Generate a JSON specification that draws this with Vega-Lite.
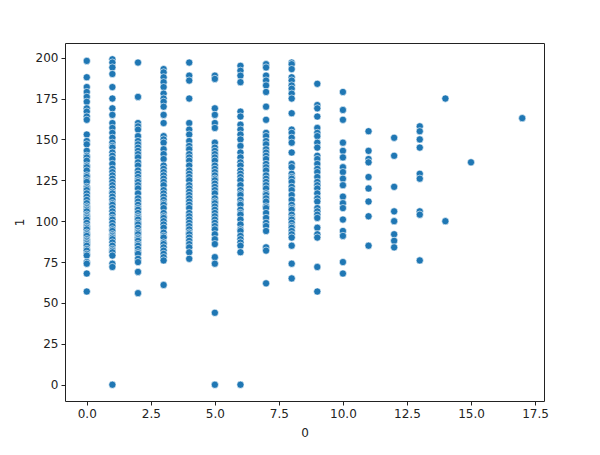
{
"$schema": "https://vega.github.io/schema/vega-lite/v6.json",
"autosize": {"type": "none"},
"padding": {"left": 65, "top": 43, "right": 56, "bottom": 54},
"width": 479,
"height": 358,
"background": "white",
"data": {"values": [
{"p":0,"g":198},{"p":0,"g":188},{"p":0,"g":182},{"p":0,"g":179},{"p":0,"g":176},{"p":0,"g":173},{"p":0,"g":169},{"p":0,"g":167},{"p":0,"g":164},{"p":0,"g":162},{"p":0,"g":153},{"p":0,"g":149},{"p":0,"g":147},{"p":0,"g":143},{"p":0,"g":140},{"p":0,"g":139},{"p":0,"g":137},{"p":0,"g":134},{"p":0,"g":133},{"p":0,"g":131},{"p":0,"g":128},{"p":0,"g":127},{"p":0,"g":125},{"p":0,"g":124},{"p":0,"g":121},{"p":0,"g":120},{"p":0,"g":119},{"p":0,"g":117},{"p":0,"g":115},{"p":0,"g":113},{"p":0,"g":111},{"p":0,"g":109},{"p":0,"g":108},{"p":0,"g":107},{"p":0,"g":106},{"p":0,"g":104},{"p":0,"g":103},{"p":0,"g":102},{"p":0,"g":101},{"p":0,"g":99},{"p":0,"g":97},{"p":0,"g":96},{"p":0,"g":95},{"p":0,"g":93},{"p":0,"g":92},{"p":0,"g":91},{"p":0,"g":89},{"p":0,"g":88},{"p":0,"g":87},{"p":0,"g":86},{"p":0,"g":85},{"p":0,"g":83},{"p":0,"g":82},{"p":0,"g":80},{"p":0,"g":79},{"p":0,"g":75},{"p":0,"g":74},{"p":0,"g":68},{"p":0,"g":57},
{"p":1,"g":199},{"p":1,"g":197},{"p":1,"g":194},{"p":1,"g":190},{"p":1,"g":182},{"p":1,"g":175},{"p":1,"g":169},{"p":1,"g":165},{"p":1,"g":160},{"p":1,"g":157},{"p":1,"g":154},{"p":1,"g":151},{"p":1,"g":148},{"p":1,"g":146},{"p":1,"g":145},{"p":1,"g":142},{"p":1,"g":140},{"p":1,"g":138},{"p":1,"g":135},{"p":1,"g":132},{"p":1,"g":130},{"p":1,"g":128},{"p":1,"g":126},{"p":1,"g":124},{"p":1,"g":122},{"p":1,"g":120},{"p":1,"g":118},{"p":1,"g":117},{"p":1,"g":115},{"p":1,"g":113},{"p":1,"g":111},{"p":1,"g":110},{"p":1,"g":108},{"p":1,"g":106},{"p":1,"g":104},{"p":1,"g":102},{"p":1,"g":101},{"p":1,"g":99},{"p":1,"g":97},{"p":1,"g":95},{"p":1,"g":94},{"p":1,"g":92},{"p":1,"g":91},{"p":1,"g":90},{"p":1,"g":89},{"p":1,"g":87},{"p":1,"g":85},{"p":1,"g":83},{"p":1,"g":82},{"p":1,"g":81},{"p":1,"g":79},{"p":1,"g":74},{"p":1,"g":72},{"p":1,"g":0},
{"p":2,"g":197},{"p":2,"g":176},{"p":2,"g":160},{"p":2,"g":158},{"p":2,"g":156},{"p":2,"g":152},{"p":2,"g":149},{"p":2,"g":147},{"p":2,"g":145},{"p":2,"g":143},{"p":2,"g":141},{"p":2,"g":139},{"p":2,"g":136},{"p":2,"g":134},{"p":2,"g":131},{"p":2,"g":129},{"p":2,"g":127},{"p":2,"g":125},{"p":2,"g":124},{"p":2,"g":122},{"p":2,"g":120},{"p":2,"g":117},{"p":2,"g":114},{"p":2,"g":112},{"p":2,"g":110},{"p":2,"g":108},{"p":2,"g":107},{"p":2,"g":105},{"p":2,"g":103},{"p":2,"g":102},{"p":2,"g":101},{"p":2,"g":99},{"p":2,"g":98},{"p":2,"g":96},{"p":2,"g":94},{"p":2,"g":93},{"p":2,"g":92},{"p":2,"g":90},{"p":2,"g":89},{"p":2,"g":88},{"p":2,"g":86},{"p":2,"g":85},{"p":2,"g":83},{"p":2,"g":81},{"p":2,"g":80},{"p":2,"g":77},{"p":2,"g":75},{"p":2,"g":69},{"p":2,"g":56},
{"p":3,"g":193},{"p":3,"g":191},{"p":3,"g":188},{"p":3,"g":185},{"p":3,"g":182},{"p":3,"g":178},{"p":3,"g":175},{"p":3,"g":173},{"p":3,"g":170},{"p":3,"g":165},{"p":3,"g":160},{"p":3,"g":152},{"p":3,"g":150},{"p":3,"g":148},{"p":3,"g":144},{"p":3,"g":141},{"p":3,"g":138},{"p":3,"g":134},{"p":3,"g":132},{"p":3,"g":130},{"p":3,"g":128},{"p":3,"g":126},{"p":3,"g":124},{"p":3,"g":122},{"p":3,"g":119},{"p":3,"g":117},{"p":3,"g":115},{"p":3,"g":113},{"p":3,"g":111},{"p":3,"g":110},{"p":3,"g":108},{"p":3,"g":105},{"p":3,"g":103},{"p":3,"g":102},{"p":3,"g":100},{"p":3,"g":98},{"p":3,"g":96},{"p":3,"g":93},{"p":3,"g":91},{"p":3,"g":90},{"p":3,"g":87},{"p":3,"g":86},{"p":3,"g":84},{"p":3,"g":82},{"p":3,"g":80},{"p":3,"g":78},{"p":3,"g":76},{"p":3,"g":61},
{"p":4,"g":197},{"p":4,"g":189},{"p":4,"g":186},{"p":4,"g":175},{"p":4,"g":160},{"p":4,"g":156},{"p":4,"g":153},{"p":4,"g":149},{"p":4,"g":146},{"p":4,"g":144},{"p":4,"g":141},{"p":4,"g":139},{"p":4,"g":137},{"p":4,"g":134},{"p":4,"g":131},{"p":4,"g":129},{"p":4,"g":127},{"p":4,"g":125},{"p":4,"g":122},{"p":4,"g":120},{"p":4,"g":118},{"p":4,"g":116},{"p":4,"g":114},{"p":4,"g":112},{"p":4,"g":110},{"p":4,"g":108},{"p":4,"g":105},{"p":4,"g":103},{"p":4,"g":101},{"p":4,"g":99},{"p":4,"g":97},{"p":4,"g":95},{"p":4,"g":93},{"p":4,"g":92},{"p":4,"g":90},{"p":4,"g":88},{"p":4,"g":86},{"p":4,"g":84},{"p":4,"g":81},{"p":4,"g":77},
{"p":5,"g":189},{"p":5,"g":187},{"p":5,"g":169},{"p":5,"g":165},{"p":5,"g":160},{"p":5,"g":157},{"p":5,"g":148},{"p":5,"g":145},{"p":5,"g":143},{"p":5,"g":141},{"p":5,"g":139},{"p":5,"g":137},{"p":5,"g":134},{"p":5,"g":132},{"p":5,"g":130},{"p":5,"g":128},{"p":5,"g":126},{"p":5,"g":125},{"p":5,"g":123},{"p":5,"g":121},{"p":5,"g":119},{"p":5,"g":117},{"p":5,"g":114},{"p":5,"g":112},{"p":5,"g":111},{"p":5,"g":109},{"p":5,"g":107},{"p":5,"g":105},{"p":5,"g":103},{"p":5,"g":101},{"p":5,"g":99},{"p":5,"g":97},{"p":5,"g":95},{"p":5,"g":92},{"p":5,"g":89},{"p":5,"g":86},{"p":5,"g":78},{"p":5,"g":74},{"p":5,"g":44},{"p":5,"g":0},
{"p":6,"g":195},{"p":6,"g":192},{"p":6,"g":189},{"p":6,"g":185},{"p":6,"g":167},{"p":6,"g":164},{"p":6,"g":159},{"p":6,"g":156},{"p":6,"g":153},{"p":6,"g":150},{"p":6,"g":146},{"p":6,"g":142},{"p":6,"g":139},{"p":6,"g":136},{"p":6,"g":134},{"p":6,"g":131},{"p":6,"g":129},{"p":6,"g":127},{"p":6,"g":125},{"p":6,"g":122},{"p":6,"g":119},{"p":6,"g":117},{"p":6,"g":116},{"p":6,"g":113},{"p":6,"g":111},{"p":6,"g":110},{"p":6,"g":107},{"p":6,"g":105},{"p":6,"g":104},{"p":6,"g":101},{"p":6,"g":98},{"p":6,"g":95},{"p":6,"g":94},{"p":6,"g":91},{"p":6,"g":89},{"p":6,"g":87},{"p":6,"g":85},{"p":6,"g":81},{"p":6,"g":0},
{"p":7,"g":196},{"p":7,"g":194},{"p":7,"g":189},{"p":7,"g":186},{"p":7,"g":183},{"p":7,"g":179},{"p":7,"g":170},{"p":7,"g":162},{"p":7,"g":154},{"p":7,"g":152},{"p":7,"g":149},{"p":7,"g":147},{"p":7,"g":144},{"p":7,"g":142},{"p":7,"g":140},{"p":7,"g":138},{"p":7,"g":135},{"p":7,"g":133},{"p":7,"g":131},{"p":7,"g":128},{"p":7,"g":126},{"p":7,"g":124},{"p":7,"g":122},{"p":7,"g":120},{"p":7,"g":117},{"p":7,"g":116},{"p":7,"g":114},{"p":7,"g":112},{"p":7,"g":109},{"p":7,"g":108},{"p":7,"g":105},{"p":7,"g":102},{"p":7,"g":99},{"p":7,"g":97},{"p":7,"g":94},{"p":7,"g":84},{"p":7,"g":82},{"p":7,"g":62},
{"p":8,"g":197},{"p":8,"g":196},{"p":8,"g":193},{"p":8,"g":188},{"p":8,"g":186},{"p":8,"g":183},{"p":8,"g":181},{"p":8,"g":178},{"p":8,"g":175},{"p":8,"g":166},{"p":8,"g":156},{"p":8,"g":154},{"p":8,"g":151},{"p":8,"g":148},{"p":8,"g":142},{"p":8,"g":135},{"p":8,"g":133},{"p":8,"g":129},{"p":8,"g":127},{"p":8,"g":126},{"p":8,"g":124},{"p":8,"g":121},{"p":8,"g":119},{"p":8,"g":116},{"p":8,"g":113},{"p":8,"g":110},{"p":8,"g":108},{"p":8,"g":107},{"p":8,"g":104},{"p":8,"g":102},{"p":8,"g":101},{"p":8,"g":99},{"p":8,"g":97},{"p":8,"g":96},{"p":8,"g":94},{"p":8,"g":92},{"p":8,"g":90},{"p":8,"g":85},{"p":8,"g":74},{"p":8,"g":65},
{"p":9,"g":184},{"p":9,"g":171},{"p":9,"g":169},{"p":9,"g":164},{"p":9,"g":157},{"p":9,"g":154},{"p":9,"g":152},{"p":9,"g":148},{"p":9,"g":145},{"p":9,"g":140},{"p":9,"g":138},{"p":9,"g":135},{"p":9,"g":132},{"p":9,"g":130},{"p":9,"g":127},{"p":9,"g":124},{"p":9,"g":122},{"p":9,"g":120},{"p":9,"g":117},{"p":9,"g":114},{"p":9,"g":112},{"p":9,"g":108},{"p":9,"g":106},{"p":9,"g":104},{"p":9,"g":102},{"p":9,"g":96},{"p":9,"g":92},{"p":9,"g":90},{"p":9,"g":72},{"p":9,"g":57},
{"p":10,"g":179},{"p":10,"g":168},{"p":10,"g":162},{"p":10,"g":148},{"p":10,"g":143},{"p":10,"g":139},{"p":10,"g":133},{"p":10,"g":130},{"p":10,"g":126},{"p":10,"g":122},{"p":10,"g":115},{"p":10,"g":111},{"p":10,"g":108},{"p":10,"g":101},{"p":10,"g":94},{"p":10,"g":91},{"p":10,"g":75},{"p":10,"g":68},
{"p":11,"g":155},{"p":11,"g":143},{"p":11,"g":138},{"p":11,"g":136},{"p":11,"g":127},{"p":11,"g":120},{"p":11,"g":112},{"p":11,"g":103},{"p":11,"g":85},
{"p":12,"g":151},{"p":12,"g":140},{"p":12,"g":121},{"p":12,"g":106},{"p":12,"g":100},{"p":12,"g":92},{"p":12,"g":88},{"p":12,"g":84},
{"p":13,"g":158},{"p":13,"g":155},{"p":13,"g":150},{"p":13,"g":145},{"p":13,"g":129},{"p":13,"g":126},{"p":13,"g":106},{"p":13,"g":104},{"p":13,"g":76},
{"p":14,"g":175},{"p":14,"g":100},
{"p":15,"g":136},
{"p":17,"g":163}
]},
"mark": {"type": "point", "filled": true, "shape": "circle", "size": 52, "color": "#1f77b4", "stroke": "white", "strokeWidth": 0.6, "opacity": 1},
"encoding": {
"x": {"field": "p", "type": "quantitative", "title": "0",
"scale": {"domain": [-0.85, 17.85], "nice": false, "zero": false},
"axis": {"values": [0, 2.5, 5, 7.5, 10, 12.5, 15, 17.5], "format": ".1f", "titlePadding": 8}},
"y": {"field": "g", "type": "quantitative", "title": "1",
"scale": {"domain": [-9.95, 208.95], "nice": false, "zero": false},
"axis": {"values": [0, 25, 50, 75, 100, 125, 150, 175, 200], "format": "d", "titlePadding": 9}}
},
"config": {
"view": {"stroke": "#222", "strokeWidth": 1},
"axis": {"domain": false, "grid": false, "ticks": true, "tickColor": "#222", "tickSize": 4, "tickWidth": 1,
"labelFont": "DejaVu Sans", "labelFontSize": 12, "labelColor": "#222", "labelPadding": 3,
"titleFont": "DejaVu Sans", "titleFontSize": 12, "titleFontWeight": "normal", "titleColor": "#222"}
}
}
